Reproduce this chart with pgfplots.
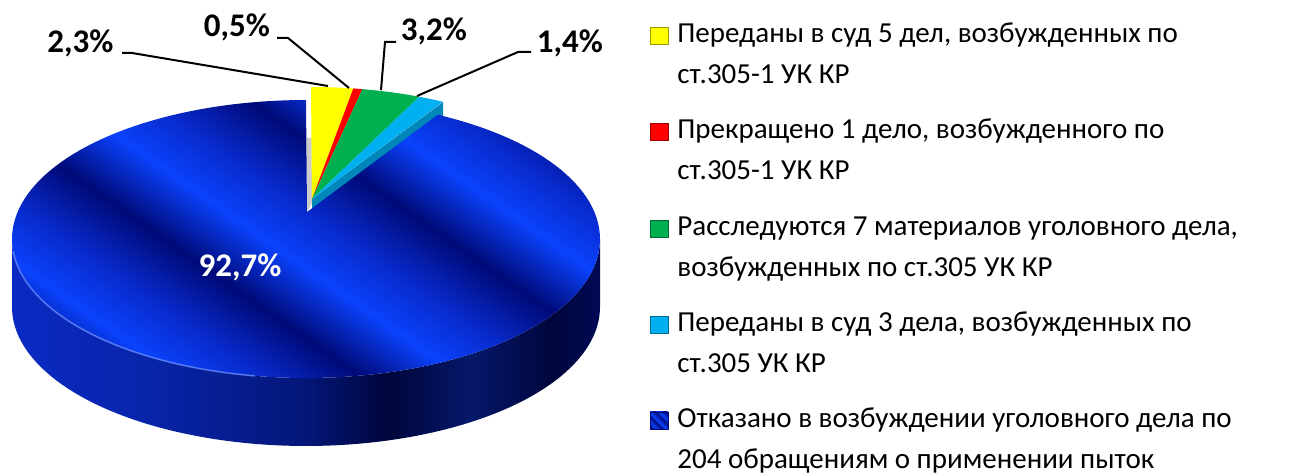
\documentclass[border=0pt]{standalone}
\usepackage{fontspec}
\setmainfont{Carlito}
\usepackage{pgfplots}
\pgfplotsset{compat=1.18}

\definecolor{pyellow}{HTML}{FFFF00}
\definecolor{pred}{HTML}{FF0000}
\definecolor{pgreen}{HTML}{00B050}
\definecolor{pcyan}{HTML}{00B0F0}
\definecolor{pcyand}{HTML}{0086B8}
\definecolor{bbright}{HTML}{0A42FC}
\definecolor{bmid}{HTML}{082ACC}
\definecolor{bdark}{HTML}{000A78}
\definecolor{sA}{HTML}{0A2AC4}
\definecolor{sB}{HTML}{0824A8}
\definecolor{sC}{HTML}{041678}
\definecolor{sD}{HTML}{00063C}
\definecolor{sE}{HTML}{06186A}
\definecolor{sF}{HTML}{000A55}

\pgfdeclarehorizontalshading{bluetop}{100bp}{color(0bp)=(bdark); color(7bp)=(bbright); color(13bp)=(bmid); color(20bp)=(bdark); color(27bp)=(bbright); color(33bp)=(bmid); color(40bp)=(bdark); color(47bp)=(bbright); color(53bp)=(bmid); color(60bp)=(bdark); color(67bp)=(bbright); color(73bp)=(bmid); color(80bp)=(bdark); color(87bp)=(bbright); color(93bp)=(bmid); color(100bp)=(bdark)}
\pgfdeclarehorizontalshading{blueside}{100bp}{color(0bp)=(sA); color(25bp)=(sA); color(37bp)=(sB); color(50bp)=(sC); color(57bp)=(sD); color(64bp)=(sE); color(71bp)=(sD); color(75bp)=(sF); color(100bp)=(sF)}

% shares of the pie, per cent
\newcommand\pA{2.3}
\newcommand\pB{0.5}
\newcommand\pC{3.2}
\newcommand\pD{1.4}
\newcommand\pE{92.7}

\begin{document}
\begin{tikzpicture}
\pgfmathsetmacro\aA{3.6*\pA}
\pgfmathsetmacro\aB{\aA+3.6*\pB}
\pgfmathsetmacro\aC{\aB+3.6*\pC}
\pgfmathsetmacro\aD{\aC+3.6*\pD}
\begin{axis}[
  scale only axis, width=648pt, height=236pt,
  xmin=0, xmax=1296, ymin=0, ymax=472, y dir=reverse,
  hide axis, clip=false,
  declare function={rx(\a)=306+294*sin(\a); ry(\a)=239-139*cos(\a);},
]
\addplot[draw=none] coordinates {(0,0) (1296,472)};
% blue side
\addplot[shade, shading=blueside, draw=none, domain=90:450, samples=181]
  ({rx(x<=270 ? x : 540-x)}, {ry(x<=270 ? x : 540-x) + (x<=270 ? 0 : 68)}) -- cycle;
% cut faces of the raised slices
\addplot[fill=gray!40, draw=none] coordinates {(306.5,138) (311.5,138) (312,203) (307,212)} -- cycle;
\addplot[fill=pcyand, draw=none] coordinates {(443,102) (443,117) (312,214) (312,199)} -- cycle;
% blue top
\addplot[shade, shading=bluetop, shading angle=55, draw=none, domain=\aD:360, samples=160]
  ({rx(x)}, {ry(x)}) -- (axis cs:307,212) -- cycle;
\addplot[draw=bbright!60!white, opacity=0.7, line width=0.8pt, domain=190:265, samples=60]
  ({rx(x)}, {ry(x)});
% raised small slices
\addplot[fill=pyellow, draw=none, domain=0:\aA, samples=20]
  ({rx(x)+5}, {ry(x)-13}) -- (axis cs:312,199) -- cycle;
\addplot[fill=pred, draw=none, domain=\aA:\aB, samples=10]
  ({rx(x)+5}, {ry(x)-13}) -- (axis cs:312,199) -- cycle;
\addplot[fill=pgreen, draw=none, domain=\aB:\aC, samples=20]
  ({rx(x)+5}, {ry(x)-13}) -- (axis cs:312,199) -- cycle;
\addplot[fill=pcyan, draw=none, domain=\aC:\aD, samples=10]
  ({rx(x)+5}, {ry(x)-13}) -- (axis cs:312,199) -- cycle;
% leader lines
\addplot[black, line width=1pt] coordinates {(122,53) (132,53) (328,86)};
\addplot[black, line width=1pt] coordinates {(277,38) (288,38) (349,88)};
\addplot[black, line width=1pt] coordinates {(396,42) (385,42) (381,90)};
\addplot[black, line width=1pt] coordinates {(531,52) (518,52) (417,96)};
% labels
\begin{scope}[every node/.style={anchor=base, inner sep=0pt, font=\fontsize{16.5}{19}\selectfont\bfseries}]
\node at (axis cs:80.5,53) {2,3\%};
\node at (axis cs:237,37) {0,5\%};
\node at (axis cs:434,41) {3,2\%};
\node at (axis cs:570,53) {1,4\%};
\node[text=white] at (axis cs:240,277) {92,7\%};
\end{scope}
% legend
\addplot[fill=pyellow, draw=pyellow!60!black] coordinates {(650,27) (668,27) (668,44) (650,44)} -- cycle;
\addplot[fill=pred, draw=pred!60!black] coordinates {(650,123) (668,123) (668,140) (650,140)} -- cycle;
\addplot[fill=pgreen, draw=pgreen!60!black] coordinates {(650,220) (668,220) (668,237) (650,237)} -- cycle;
\addplot[fill=pcyan, draw=pcyan!60!black] coordinates {(650,316) (668,316) (668,333) (650,333)} -- cycle;
\addplot[shade, shading=bluetop, shading angle=45, draw=bdark] coordinates {(650,412) (668,412) (668,429) (650,429)} -- cycle;
\begin{scope}[every node/.style={anchor=base west, inner sep=0pt, font=\fontsize{14.5}{17}\selectfont}]
\node at (axis cs:677,43) {Переданы в суд 5 дел, возбужденных по};
\node at (axis cs:677,84) {ст.305-1 УК КР};
\node at (axis cs:677,139) {Прекращено 1 дело, возбужденного по};
\node at (axis cs:677,180) {ст.305-1 УК КР};
\node at (axis cs:677,236) {Расследуются 7 материалов уголовного дела,};
\node at (axis cs:677,277) {возбужденных по ст.305 УК КР};
\node at (axis cs:677,332) {Переданы в суд 3 дела, возбужденных по};
\node at (axis cs:677,373) {ст.305 УК КР};
\node at (axis cs:677,428) {Отказано в возбуждении уголовного дела по};
\node at (axis cs:677,469) {204 обращениям о применении пыток};
\end{scope}
\end{axis}
\end{tikzpicture}
\end{document}
